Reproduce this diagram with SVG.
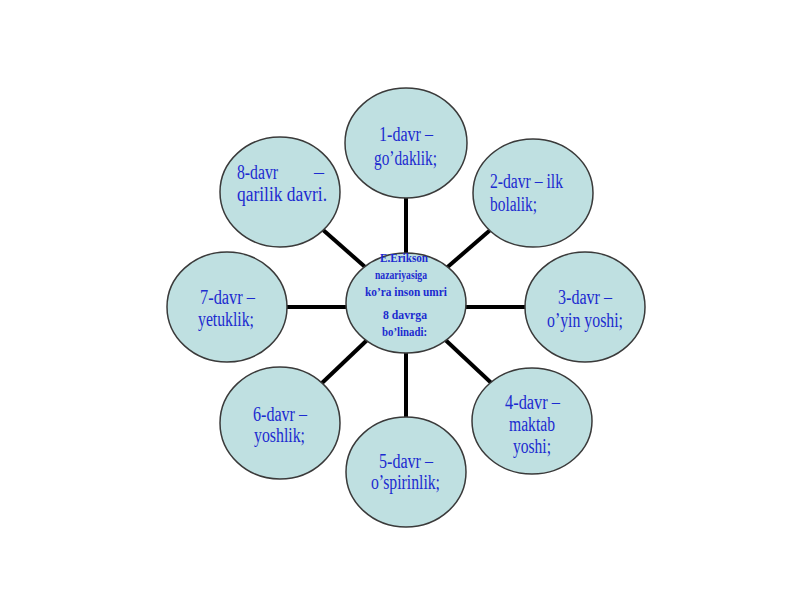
<svg xmlns="http://www.w3.org/2000/svg" width="800" height="600" viewBox="0 0 800 600">
<style>
.node ellipse{fill:#bfe0e1;stroke:#3a3a3a;stroke-width:1.5}
.t{font-family:"Liberation Serif","Times New Roman",serif;font-size:20px;fill:#1c2bd0}
.c{font-family:"Liberation Serif","Times New Roman",serif;font-size:12px;font-weight:bold;fill:#1c2bd0}
.conn line{stroke:#000;stroke-width:4}
</style>
<rect width="800" height="600" fill="#fff"/>
<g id="connectors" class="conn">
<line x1="406" y1="303" x2="406" y2="143"/>
<line x1="406" y1="303" x2="533" y2="193"/>
<line x1="406" y1="307" x2="585" y2="307"/>
<line x1="406" y1="303" x2="532" y2="421"/>
<line x1="406" y1="303" x2="406" y2="472"/>
<line x1="406" y1="303" x2="280" y2="423"/>
<line x1="406" y1="307" x2="227" y2="307"/>
<line x1="406" y1="303" x2="280" y2="192"/>
</g>
<g id="n1" class="node"><ellipse cx="406" cy="143" rx="61" ry="55"/>
<text class="t" x="379" y="141" textLength="54" lengthAdjust="spacingAndGlyphs">1-davr –</text>
<text class="t" x="374" y="165" textLength="63" lengthAdjust="spacingAndGlyphs">go’daklik;</text></g>
<g id="n2" class="node"><ellipse cx="533" cy="193" rx="60" ry="54"/>
<text class="t" x="490" y="188" textLength="73" lengthAdjust="spacingAndGlyphs">2-davr – ilk</text>
<text class="t" x="490" y="211" textLength="47" lengthAdjust="spacingAndGlyphs">bolalik;</text></g>
<g id="n3" class="node"><ellipse cx="585" cy="307" rx="60" ry="55"/>
<text class="t" x="558" y="304" textLength="54" lengthAdjust="spacingAndGlyphs">3-davr –</text>
<text class="t" x="547" y="327" textLength="76" lengthAdjust="spacingAndGlyphs">o’yin yoshi;</text></g>
<g id="n4" class="node"><ellipse cx="532" cy="421" rx="60" ry="53"/>
<text class="t" x="505" y="409" textLength="55" lengthAdjust="spacingAndGlyphs">4-davr –</text>
<text class="t" x="509" y="431" textLength="46" lengthAdjust="spacingAndGlyphs">maktab</text>
<text class="t" x="513" y="453" textLength="38" lengthAdjust="spacingAndGlyphs">yoshi;</text></g>
<g id="n5" class="node"><ellipse cx="406" cy="472" rx="60" ry="55"/>
<text class="t" x="379" y="468" textLength="54" lengthAdjust="spacingAndGlyphs">5-davr –</text>
<text class="t" x="371" y="489" textLength="69" lengthAdjust="spacingAndGlyphs">o’spirinlik;</text></g>
<g id="n6" class="node"><ellipse cx="280" cy="423" rx="60" ry="56"/>
<text class="t" x="253" y="421" textLength="54" lengthAdjust="spacingAndGlyphs">6-davr –</text>
<text class="t" x="254" y="442" textLength="51" lengthAdjust="spacingAndGlyphs">yoshlik;</text></g>
<g id="n7" class="node"><ellipse cx="227" cy="307" rx="60" ry="55"/>
<text class="t" x="200" y="304" textLength="55" lengthAdjust="spacingAndGlyphs">7-davr –</text>
<text class="t" x="198" y="326" textLength="56" lengthAdjust="spacingAndGlyphs">yetuklik;</text></g>
<g id="n8" class="node"><ellipse cx="280" cy="192" rx="60" ry="55"/>
<text class="t" x="237" y="179" textLength="41" lengthAdjust="spacingAndGlyphs">8-davr</text>
<text class="t" x="314" y="179">–</text>
<text class="t" x="237" y="201" textLength="90" lengthAdjust="spacingAndGlyphs">qarilik  davri.</text></g>
<g id="center" class="node"><ellipse cx="406" cy="303" rx="60" ry="50"/>
<text class="c" x="380" y="262" textLength="48" lengthAdjust="spacingAndGlyphs">E.Erikson</text>
<text class="c" x="375" y="279" textLength="52" lengthAdjust="spacingAndGlyphs">nazariyasiga</text>
<text class="c" x="365" y="296" textLength="82" lengthAdjust="spacingAndGlyphs">ko’ra inson umri</text>
<text class="c" x="383" y="319" textLength="44" lengthAdjust="spacingAndGlyphs">8 davrga</text>
<text class="c" x="382" y="336" textLength="45" lengthAdjust="spacingAndGlyphs">bo’linadi:</text></g>
</svg>
